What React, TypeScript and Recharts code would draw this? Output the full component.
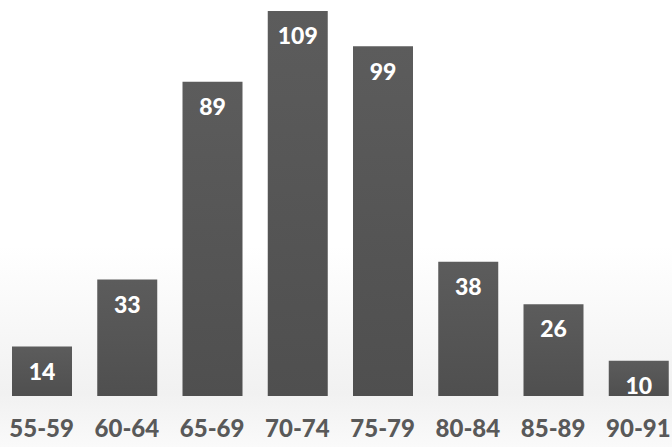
import { Bar, BarChart, LabelList, XAxis, YAxis } from "recharts";

const ageGroups = ["55-59", "60-64", "65-69", "70-74", "75-79", "80-84", "85-89", "90-91"];
const counts = [14, 33, 89, 109, 99, 38, 26, 10];

const data = ageGroups.map((group, i) => ({ group, count: counts[i] }));

const font = "Lato, 'Open Sans', sans-serif";

export default function App() {
  return (
    <div
      style={{
        position: "absolute",
        left: 0,
        top: 0,
        width: 672,
        height: 447,
        overflow: "hidden",
        background: "linear-gradient(to bottom, #ffffff 0%, #ffffff 55%, #f1f1f1 88%, #fafafa 100%)",
        fontFamily: font
      }}
    >
      <div style={{ position: "absolute", left: -1, top: 0 }}>
        <BarChart
          width={682}
          height={447}
          data={data}
          margin={{ top: 11, right: 0, bottom: 21, left: 0 }}
          barSize={60}
        >
          <defs>
            <linearGradient id="barFill" x1="0" y1="0" x2="0" y2="1">
              <stop offset="0%" stopColor="#5c5c5c" />
              <stop offset="100%" stopColor="#4f4f4f" />
            </linearGradient>
          </defs>
          <XAxis
            dataKey="group"
            axisLine={false}
            tickLine={false}
            interval={0}
            height={30}
            tickMargin={18}
            tick={{ fill: "#595959", fontSize: 24, fontWeight: 900, fontFamily: font }}
          />
          <YAxis hide domain={[0, 109]} />
          <Bar dataKey="count" fill="url(#barFill)" isAnimationActive={false}>
            <LabelList
              dataKey="count"
              position="insideTop"
              offset={17}
              fill="#ffffff"
              style={{ fontSize: 23, fontWeight: 900, fontFamily: font }}
            />
          </Bar>
        </BarChart>
      </div>
    </div>
  );
}
